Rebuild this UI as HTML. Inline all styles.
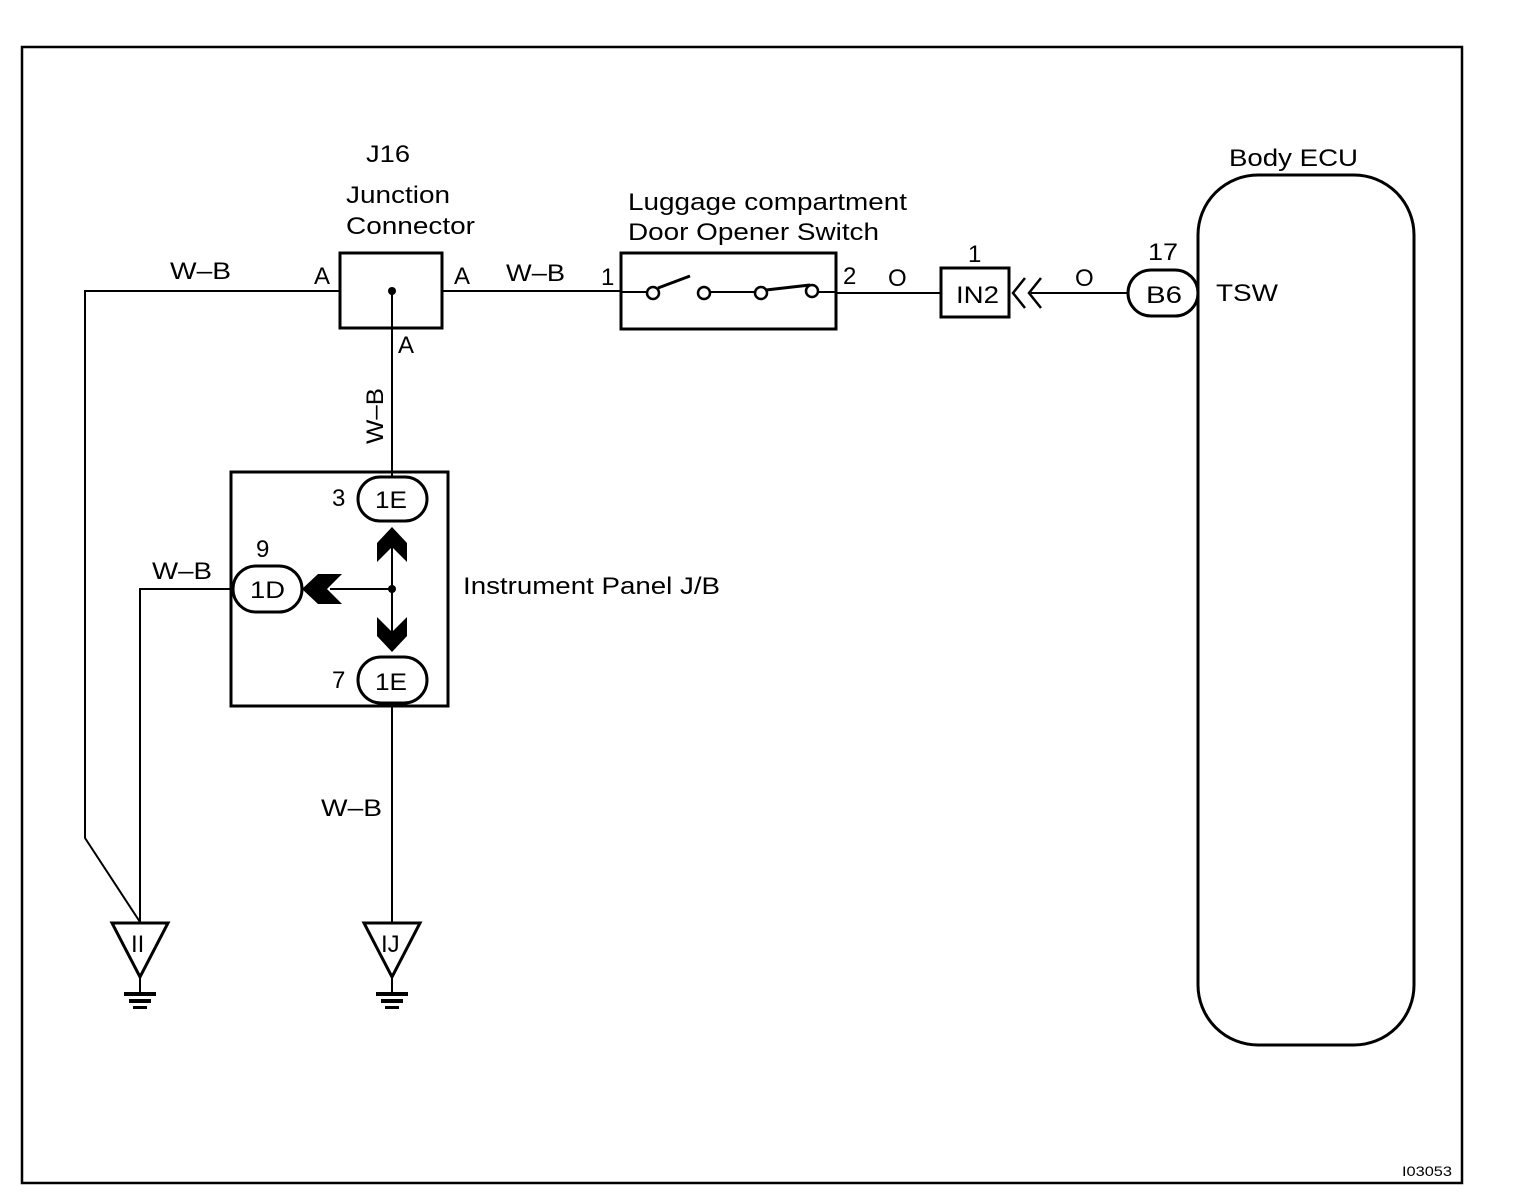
<!DOCTYPE html>
<html><head><style>body{margin:0;background:#fff}svg{display:block}text{font-family:"Liberation Sans",Arial,sans-serif;font-size:24px;fill:#000}</style></head>
<body>
<svg width="1520" height="1204" viewBox="0 0 1520 1204" xmlns="http://www.w3.org/2000/svg">
<g fill="none" stroke="#000" stroke-width="2">
<rect x="22" y="47" width="1440" height="1136" stroke-width="2.5"/>
<polyline points="340,291 85,291 85,838 140,922"/>
<rect x="340" y="253" width="102" height="75" stroke-width="3"/>
<line x1="442" y1="291" x2="621" y2="291"/>
<line x1="392" y1="291" x2="392" y2="477"/>
<rect x="621" y="253" width="215" height="76" stroke-width="3"/>
<line x1="621" y1="292" x2="647" y2="292"/>
<line x1="658" y1="288" x2="690" y2="276" stroke-width="3"/>
<line x1="709" y1="292" x2="756" y2="292"/>
<line x1="766" y1="290" x2="810" y2="285" stroke-width="3"/>
<line x1="818" y1="292" x2="836" y2="292"/>
<circle cx="653" cy="293" r="6" stroke-width="2.5"/>
<circle cx="704" cy="293" r="6" stroke-width="2.5"/>
<circle cx="761" cy="293" r="6" stroke-width="2.5"/>
<circle cx="812" cy="291" r="6" stroke-width="2.5"/>
<line x1="836" y1="293" x2="941" y2="293"/>
<rect x="941" y="268" width="68" height="49" stroke-width="3"/>
<polyline points="1025,278 1013,293 1025,308" stroke-width="2.5"/>
<polyline points="1041,278 1029,293 1041,308" stroke-width="2.5"/>
<line x1="1031" y1="293" x2="1128" y2="293"/>
<rect x="1128" y="270" width="70" height="46" rx="23" stroke-width="3"/>
<rect x="1198" y="175" width="216" height="870" rx="60" stroke-width="3"/>
<rect x="231" y="472" width="217" height="234" stroke-width="3"/>
<rect x="358" y="477" width="69" height="44" rx="22" stroke-width="3"/>
<rect x="233" y="566" width="69" height="46" rx="23" stroke-width="3"/>
<rect x="358" y="657" width="69" height="46" rx="23" stroke-width="3"/>
<line x1="392" y1="540" x2="392" y2="640"/>
<line x1="330" y1="589" x2="392" y2="589"/>
<polyline points="233,589 140,589 140,922"/>
<line x1="392" y1="703" x2="392" y2="922"/>
<polygon points="112,923 168,923 140,977" stroke-width="3"/>
<polygon points="364,923 420,923 392,977" stroke-width="3"/>
<line x1="140" y1="977" x2="140" y2="993"/>
<line x1="392" y1="977" x2="392" y2="993"/>
</g>
<g fill="#000">
<circle cx="392" cy="291" r="4"/>
<circle cx="392" cy="589" r="4"/>
<polygon points="392,527 407,543 407,562 392,547 377,562 377,543"/>
<polygon points="392,652 407,636 407,617 392,632 377,617 377,636"/>
<polygon points="302,589 318,574 342,574 327,589 342,604 318,604"/>
<rect x="124" y="992" width="32" height="4"/><rect x="129" y="999" width="22" height="4"/><rect x="133" y="1006" width="14" height="3"/>
<rect x="376" y="992" width="32" height="4"/><rect x="381" y="999" width="22" height="4"/><rect x="385" y="1006" width="14" height="3"/>
</g>
<text x="366" y="162" textLength="44" lengthAdjust="spacingAndGlyphs">J16</text>
<text x="346" y="203" textLength="104" lengthAdjust="spacingAndGlyphs">Junction</text>
<text x="346" y="234" textLength="129" lengthAdjust="spacingAndGlyphs">Connector</text>
<text x="170" y="279" textLength="61" lengthAdjust="spacingAndGlyphs">W–B</text>
<text x="314" y="284">A</text>
<text x="454" y="284">A</text>
<text x="398" y="353">A</text>
<text x="506" y="281" textLength="59" lengthAdjust="spacingAndGlyphs">W–B</text>
<text x="601" y="285">1</text>
<text x="628" y="210" textLength="279" lengthAdjust="spacingAndGlyphs">Luggage compartment</text>
<text x="628" y="240" textLength="251" lengthAdjust="spacingAndGlyphs">Door Opener Switch</text>
<text x="843" y="284">2</text>
<text x="888" y="286">O</text>
<text x="968" y="262">1</text>
<text x="956" y="303" textLength="43" lengthAdjust="spacingAndGlyphs">IN2</text>
<text x="1075" y="286">O</text>
<text x="1148" y="260" textLength="30" lengthAdjust="spacingAndGlyphs">17</text>
<text x="1146" y="303" textLength="36" lengthAdjust="spacingAndGlyphs">B6</text>
<text x="1229" y="166" textLength="129" lengthAdjust="spacingAndGlyphs">Body ECU</text>
<text x="1216" y="301" textLength="62" lengthAdjust="spacingAndGlyphs">TSW</text>
<text x="0" y="0" transform="translate(383,444) rotate(-90)" textLength="56" lengthAdjust="spacingAndGlyphs">W–B</text>
<text x="332" y="506">3</text>
<text x="375" y="508" textLength="32" lengthAdjust="spacingAndGlyphs">1E</text>
<text x="256" y="557">9</text>
<text x="250" y="598" textLength="35" lengthAdjust="spacingAndGlyphs">1D</text>
<text x="152" y="579" textLength="60" lengthAdjust="spacingAndGlyphs">W–B</text>
<text x="463" y="594" textLength="257" lengthAdjust="spacingAndGlyphs">Instrument Panel J/B</text>
<text x="332" y="688">7</text>
<text x="375" y="690" textLength="32" lengthAdjust="spacingAndGlyphs">1E</text>
<text x="321" y="816" textLength="61" lengthAdjust="spacingAndGlyphs">W–B</text>
<text x="131" y="952">II</text>
<text x="381" y="952">IJ</text>
<text x="1402" y="1176" style="font-size:14px" textLength="50" lengthAdjust="spacingAndGlyphs">I03053</text>
</svg>
</body></html>
